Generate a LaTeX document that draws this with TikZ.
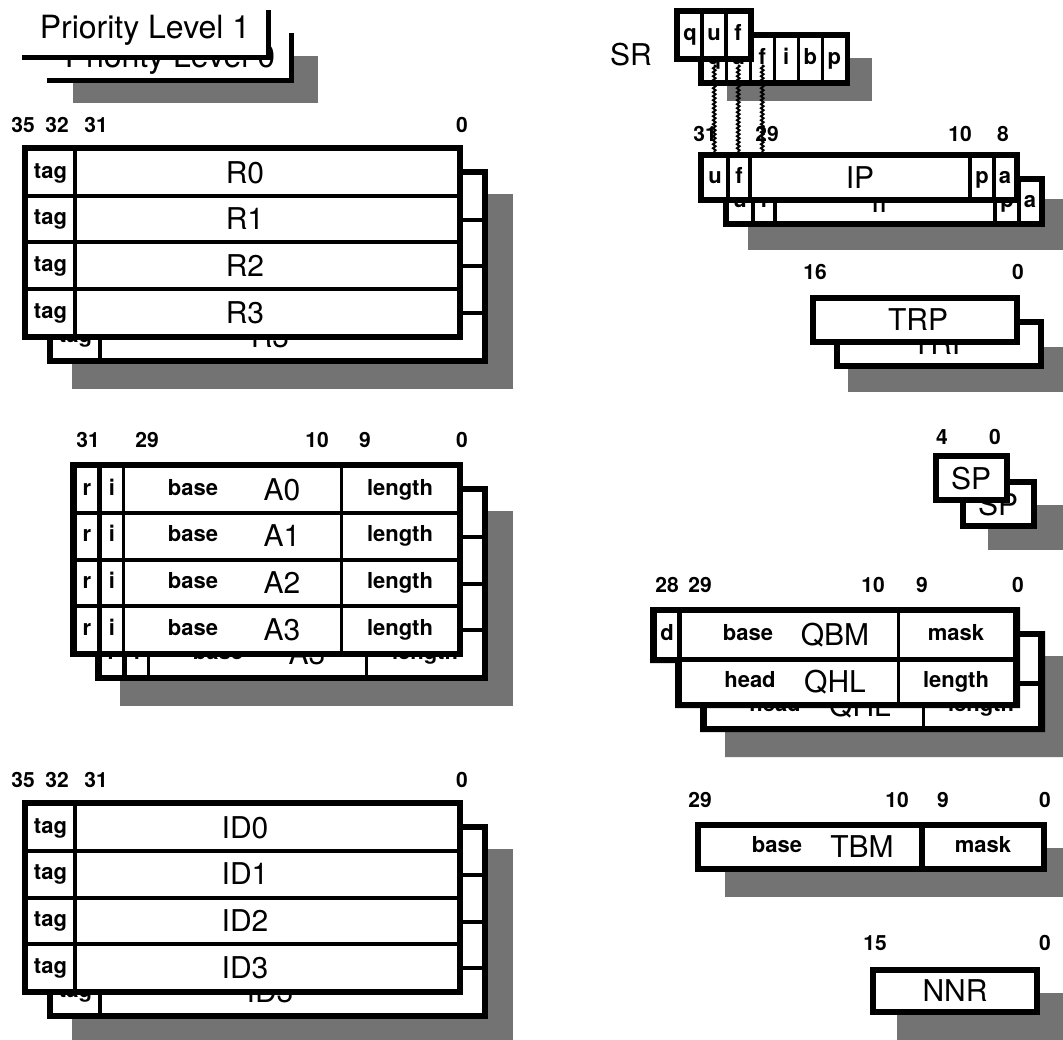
\documentclass[tikz,border=0pt]{standalone}
\usepackage{fontspec}
\setmainfont{TeX Gyre Heros}
\usetikzlibrary{calc,decorations.pathmorphing}

\tikzset{
  plate/.style={fill=black},
  dither/.style={fill=black!55},
  rim/.style={line width=5pt},
  bitno/.style={font=\bfseries\fontsize{21}{21}\selectfont, inner sep=0pt, text height=15pt, text depth=0pt},
  fld/.style={font=\bfseries\fontsize{22}{22}\selectfont, inner sep=0pt, text height=11.5pt, text depth=0pt},
  nm/.style={font=\fontsize{30}{30}\selectfont, inner sep=0pt, text height=21.3pt, text depth=0pt},
  prio/.style={font=\fontsize{32}{32}\selectfont, inner sep=0pt, text height=22.7pt, text depth=0pt},
  wavy/.style={decorate, decoration={snake, amplitude=1.3pt, segment length=4pt}, line width=2pt}
}

\newcommand{\gprbank}[2]{%
  \fill[plate] (22,145) rectangle (463,340);
  \foreach \i in {0,...,3}{%
    \pgfmathsetmacro{\ya}{151+\i*46.75}
    \pgfmathsetmacro{\yb}{\ya+42.75}
    \pgfmathsetmacro{\yc}{\ya+21.4}
    \fill[white] (28,\ya) rectangle (73,\yb);
    \fill[white] (77,\ya) rectangle (457,\yb);
    \node[fld] (#1tag\i) at (50.5,\yc) {tag};
    \node[nm] (#1reg\i) at (245,\yc) {#2\i};
  }%
}

\newcommand{\addrbank}[1]{%
  \fill[plate] (70,462) rectangle (463,657);
  \foreach \i in {0,...,3}{%
    \pgfmathsetmacro{\ya}{468+\i*46.75}
    \pgfmathsetmacro{\yb}{\ya+42.75}
    \pgfmathsetmacro{\yc}{\ya+21.4}
    \fill[white] (77,\ya) rectangle (97,\yb);
    \fill[white] (102,\ya) rectangle (122,\yb);
    \fill[white] (125,\ya) rectangle (340,\yb);
    \fill[white] (343,\ya) rectangle (457,\yb);
    \node[fld] (#1r\i) at (87,\yc) {r};
    \node[fld] (#1i\i) at (112,\yc) {i};
    \node[fld] (#1base\i) at (193,\yc) {base};
    \node[nm] (#1reg\i) at (282,\yc) {A\i};
    \node[fld] (#1len\i) at (400,\yc) {length};
  }%
}

\newcommand{\ipreg}[1]{%
  \fill[plate] (698,152) rectangle (1020,203);
  \fill[white] (704,158) rectangle (726,197);
  \fill[white] (730,158) rectangle (748,197);
  \fill[white] (752,158) rectangle (968,197);
  \fill[white] (972,158) rectangle (992,197);
  \fill[white] (996,158) rectangle (1014,197);
  \node[fld] (#1u) at (715,177.5) {u};
  \node[fld] (#1f) at (739,177.5) {f};
  \node[nm] (#1ip) at (860,177.5) {IP};
  \node[fld] (#1p) at (982,177.5) {p};
  \node[fld] (#1a) at (1005,177.5) {a};
}

\newcommand{\trpreg}[1]{%
  \fill[plate] (810,295) rectangle (1020,345);
  \fill[white] (816,301) rectangle (1014,339);
  \node[nm] (#1trp) at (918,320) {TRP};
}

\newcommand{\spreg}[1]{%
  \fill[plate] (933,453) rectangle (1010,503);
  \fill[white] (939,459) rectangle (1004,497);
  \node[nm] (#1sp) at (971,479) {SP};
}

\newcommand{\queuereg}[1]{%
  \fill[plate] (650,607) -- (1020,607) -- (1020,708) -- (675,708) -- (675,663) -- (650,663) -- cycle;
  \fill[white] (657,613) rectangle (677,657);
  \fill[white] (682,613) rectangle (897,657);
  \fill[white] (900,613) rectangle (1013,657);
  \fill[white] (682,662) rectangle (897,702);
  \fill[white] (900,662) rectangle (1013,702);
  \node[fld] (#1d) at (667,635) {d};
  \node[fld] (#1base) at (748,635) {base};
  \node[nm] (#1qbm) at (835,635) {QBM};
  \node[fld] (#1mask) at (956,635) {mask};
  \node[fld] (#1head) at (750,682) {head};
  \node[nm] (#1qhl) at (835,682) {QHL};
  \node[fld] (#1len) at (956,682) {length};
}

\begin{document}
\begin{tikzpicture}[x=1pt,y=-1pt]
\useasboundingbox (0,0) rectangle (1063,1040);

\fill[dither] (73,56) rectangle (318,103);
\fill[white] (47,33) rectangle (293,81);
\node[prio] (lvl0) at (170,56) {Priority Level 0};
\draw[rim] (47,81) -- (291,81) -- (291,33);
\fill[white] (20,8) rectangle (270,58);
\node[prio] (lvl1) at (145,27) {Priority Level 1};
\draw[rim] (22,58) -- (268,58) -- (268,10);

\fill[dither] (72,194) rectangle (513,389);
\begin{scope}[shift={(25,24)}]
  \gprbank{rb}{R}
\end{scope}
\gprbank{rf}{R}
\node[bitno] (rn35) at (23,125) {35};
\node[bitno] (rn32) at (57,125) {32};
\node[bitno] (rn31) at (96,125) {31};
\node[bitno] (rn0) at (462,125) {0};

\fill[dither] (120,511) rectangle (513,706);
\begin{scope}[shift={(25,24)}]
  \addrbank{ab}
\end{scope}
\addrbank{af}
\node[bitno] (an31) at (88,440) {31};
\node[bitno] (an29) at (147,440) {29};
\node[bitno] (an10) at (317,440) {10};
\node[bitno] (an9) at (365,440) {9};
\node[bitno] (an0) at (462,440) {0};

\begin{scope}[shift={(0,655)}]
  \fill[dither] (72,194) rectangle (513,389);
  \begin{scope}[shift={(25,24)}]
    \gprbank{ib}{ID}
  \end{scope}
  \gprbank{if}{ID}
  \node[bitno] (in35) at (23,125) {35};
  \node[bitno] (in32) at (57,125) {32};
  \node[bitno] (in31) at (96,125) {31};
  \node[bitno] (in0) at (462,125) {0};
\end{scope}

\node[nm] (sr) at (631,55) {SR};
\fill[dither] (727,58) rectangle (872,101);
\fill[plate] (698,32) rectangle (850,86);
\foreach \l [count=\k from 0] in {q,u,f,i,b,p}{
  \pgfmathsetmacro{\xa}{704+\k*24}
  \fill[white] (\xa,38) rectangle ({\xa+20.5},80);
  \node[fld] (sb\l) at ({\xa+10.25},59) {\l};
}
\coordinate (iptop) at (0,152);
\draw[wavy] (sbq) -- (sbq |- iptop);
\draw[wavy] (sbu) -- (sbu |- iptop);
\draw[wavy] (sbf) -- (sbf |- iptop);
\fill[plate] (674,8) rectangle (754,62);
\foreach \l [count=\k from 0] in {q,u,f}{
  \pgfmathsetmacro{\xa}{680+\k*24}
  \fill[white] (\xa,14) rectangle ({\xa+20},56);
  \node[fld] (sf\l) at ({\xa+10},35) {\l};
}

\fill[dither] (748,199) rectangle (1070,250);
\begin{scope}[shift={(25,24)}]
  \ipreg{ipb}
\end{scope}
\ipreg{ipf}
\node[bitno] (pn31) at (705,134) {31};
\node[bitno] (pn29) at (767,134) {29};
\node[bitno] (pn10) at (960,134) {10};
\node[bitno] (pn8) at (1003,134) {8};

\fill[dither] (848,347) rectangle (1070,392);
\begin{scope}[shift={(24,24)}]
  \trpreg{tb}
\end{scope}
\trpreg{tf}
\node[bitno] (tn16) at (815,272) {16};
\node[bitno] (tn0) at (1018,272) {0};

\fill[dither] (988,505) rectangle (1070,550);
\begin{scope}[shift={(27,26)}]
  \spreg{sb}
\end{scope}
\spreg{sf}
\node[bitno] (sn4) at (942,437) {4};
\node[bitno] (sn0) at (995,437) {0};

\begin{scope}[shift={(50,49)}]
  \fill[dither] (650,607) -- (1020,607) -- (1020,708) -- (675,708) -- (675,663) -- (650,663) -- cycle;
\end{scope}
\begin{scope}[shift={(25,24)}]
  \queuereg{qb}
\end{scope}
\queuereg{qf}
\node[bitno] (qn28) at (667,585) {28};
\node[bitno] (qn29) at (700,585) {29};
\node[bitno] (qn10) at (873,585) {10};
\node[bitno] (qn9) at (922,585) {9};
\node[bitno] (qn0) at (1018,585) {0};

\fill[dither] (725,848) rectangle (1073,897);
\fill[plate] (695,822) rectangle (1047,872);
\fill[white] (701,828) rectangle (919,866);
\fill[white] (925,828) rectangle (1041,866);
\node[fld] (tbase) at (777,847) {base};
\node[nm] (tbm) at (862,847) {TBM};
\node[fld] (tmask) at (983,847) {mask};
\node[bitno] (bn29) at (700,800) {29};
\node[bitno] (bn10) at (897,800) {10};
\node[bitno] (bn9) at (943,800) {9};
\node[bitno] (bn0) at (1045,800) {0};

\fill[dither] (897,993) rectangle (1067,1041);
\fill[plate] (870,967) rectangle (1040,1015);
\fill[white] (876,973) rectangle (1034,1009);
\node[nm] (nnr) at (955,991) {NNR};
\node[bitno] (nn15) at (875,943) {15};
\node[bitno] (nn0) at (1045,943) {0};
\end{tikzpicture}
\end{document}
